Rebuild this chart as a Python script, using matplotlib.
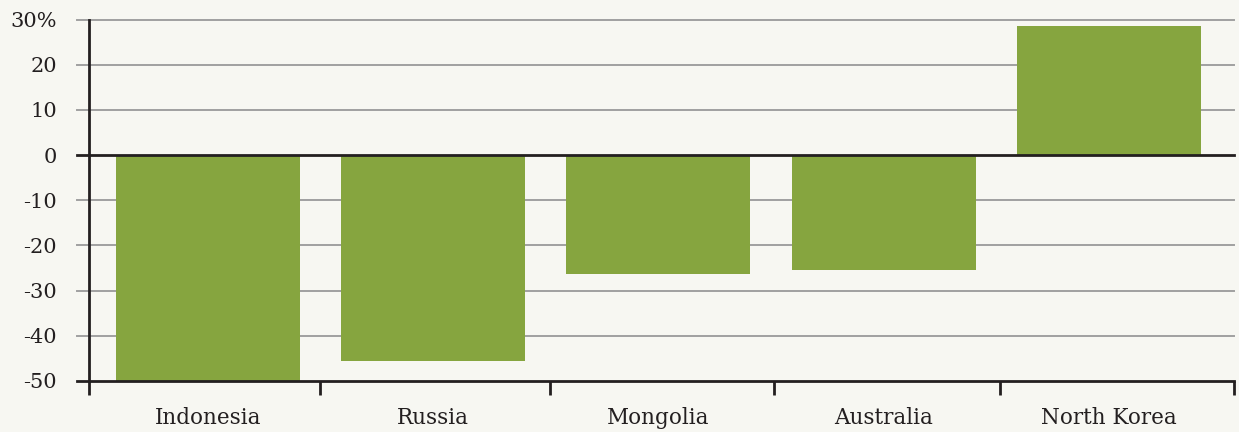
import matplotlib

matplotlib.use("Agg")
import matplotlib.pyplot as plt
import numpy as np

countries = ["Indonesia", "Russia", "Mongolia", "Australia", "North Korea"]
change_pct = [-50.0, -45.6, -26.4, -25.5, 28.5]
y_ticks = [30, 20, 10, 0, -10, -20, -30, -40, -50]
y_labels = ["30%", "20", "10", "0", "-10", "-20", "-30", "-40", "-50"]

bg = "#f7f7f2"
bar_color = "#86a53f"
grid_color = "#a0a0a0"
axis_color = "#231f20"

plt.rcParams["font.family"] = ["DejaVu Serif"]

fig = plt.figure(figsize=(12.39, 4.32), dpi=100, facecolor=bg)
ax = fig.add_axes([89 / 1239, 1 - 381 / 432, (1234 - 89) / 1239, (381 - 19.5) / 432])
ax.set_facecolor(bg)

x = np.arange(len(countries))
ax.bar(x, change_pct, width=0.817, color=bar_color, zorder=2)

# outer edges sit a little wider than the inner category boundaries
left_edge, right_edge = -0.528, len(countries) - 0.445
ax.set_xlim(left_edge, right_edge)
ax.set_ylim(-50, 30)

for v in y_ticks:
    if v in (0, -50):
        continue
    ax.plot([-0.0105, 1], [v, v], transform=ax.get_yaxis_transform(),
            color=grid_color, lw=1.4, clip_on=False, zorder=1)
for v in (0, -50):
    ax.plot([-0.0105, 1], [v, v], transform=ax.get_yaxis_transform(),
            color=axis_color, lw=2, clip_on=False, zorder=3)

for s in ["top", "right", "bottom"]:
    ax.spines[s].set_visible(False)
ax.spines["left"].set_color(axis_color)
ax.spines["left"].set_linewidth(2)
ax.spines["left"].set_zorder(4)

ax.set_yticks(y_ticks)
ax.set_yticklabels(y_labels)
ax.tick_params(axis="y", length=0, pad=23, labelsize=15, labelcolor=axis_color)

# category boundary ticks below the axis (slightly uneven in the original)
bounds = [left_edge, 0.497, 1.518, 2.513, 3.516, right_edge]
ax.set_xticks(bounds, minor=True)
ax.tick_params(axis="x", which="minor", length=10, width=2, color=axis_color, direction="out")
ax.set_xticks(x)
ax.set_xticklabels(countries)
ax.tick_params(axis="x", which="major", length=0, pad=19, labelsize=15.5, labelcolor=axis_color)

fig.savefig("out.png", dpi=100, facecolor=bg)
